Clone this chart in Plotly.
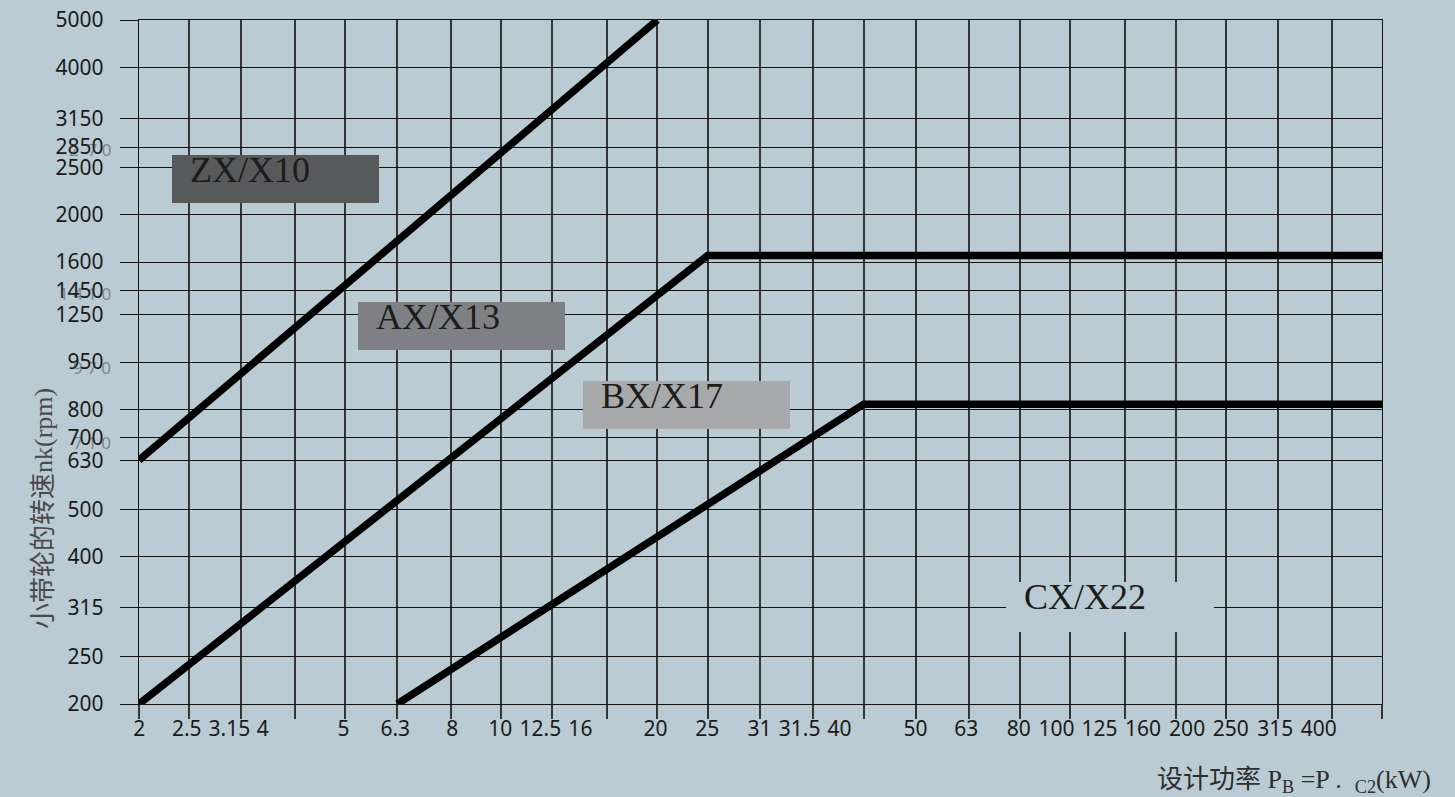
"""V带选型图：小带轮转速 vs 设计功率（ZX/AX/BX/CX 区域划分）。"""

import plotly.graph_objects as go

# 设计功率 (kW) —— R10 网格
power_grid = [2, 2.5, 3.15, 4, 5, 6.3, 8, 10, 12.5, 16, 20, 25, 31.5, 40,
              50, 63, 80, 100, 125, 160, 200, 250, 315, 400, 500]
x_tick_text = ["2", "2.5", "3.15", "4", "5", "6.3", "8", "10", "12.5", "16",
               "20", "25", "31", "31.5", "40", "50", "63", "80", "100", "125",
               "160", "200", "250", "315", "400"]

# 小带轮转速 (rpm)
speed_grid = [200, 250, 315, 400, 500, 630, 700, 800, 1000, 1250, 1400,
              1600, 2000, 2500, 2750, 3150, 4000, 5000]
y_tick_text = ["200", "250", "315", "400", "500", "630", "700", "800", "950",
               "1250", "1450", "1600", "2000", "2500", "2850", "3150",
               "4000", "5000"]

# 分界线
zx_power = [2, 20]
zx_speed = [630, 5000]
ax_power = [2, 25, 500]
ax_speed = [200, 1650, 1650]
bx_power = [6.3, 50, 500]
bx_speed = [200, 820, 820]

# 刻度文字在网格上的位置（网格序号，样式用）
x_label_slot = [0.006, 0.921, 1.744, 2.388, 3.945, 4.943, 6.044, 6.970,
                7.743, 8.515, 9.963, 10.962, 11.971, 12.744, 13.516, 14.98,
                15.96, 16.97, 17.70, 18.53, 19.37, 20.22, 21.06, 21.92, 22.76]
x_label_vals = [2 * 10 ** (s / 10) for s in x_label_slot]

BG = "#bacbd3"
INK = "#1a1a1a"

W, H = 1455, 797
# 绘图区像素位置
L, R, T, B = 139, 1382, 20, 704


def px(x):
    return (x - L) / (R - L)


def py(y):
    return (B - y) / (B - T)


fig = go.Figure()
for xs, ys in [(zx_power, zx_speed), (ax_power, ax_speed), (bx_power, bx_speed)]:
    fig.add_trace(
        go.Scatter(
            x=xs, y=ys, mode="lines",
            line=dict(color="#000000", width=7.5),
            showlegend=False, hoverinfo="skip",
        )
    )

# 型号标签框
boxes = [
    ("ZX/X10", 172, 155, 379, 203, "#58595b"),
    ("AX/X13", 358, 302, 565, 350, "#7f8083"),
    ("BX/X17", 583, 381, 790, 429, "#a8a9ab"),
    ("CX/X22", 1006, 582, 1214, 632, BG),
]
shapes = []
annotations = []
for text, x0, y0, x1, y1, color in boxes:
    shapes.append(dict(
        type="rect", xref="paper", yref="paper",
        x0=px(x0), x1=px(x1), y0=py(y0), y1=py(y1),
        fillcolor=color, line=dict(width=0), layer="above",
    ))
    annotations.append(dict(
        text=text, xref="paper", yref="paper",
        x=px(x0 + 16), y=py(y0 + 15), xanchor="left", yanchor="middle",
        showarrow=False,
        font=dict(family="Liberation Serif, serif", size=36, color="#1c1c1c"),
    ))

# 轴标题
annotations.append(dict(
    text='小带轮的转速<span style="font-family:Liberation Serif">nk(rpm)</span>',
    xref="paper", yref="paper", x=px(40), y=py(509),
    xanchor="center", yanchor="middle", textangle=-90, showarrow=False,
    font=dict(family="Noto Sans CJK SC", size=26, color="#4a4a4a"),
))
annotations.append(dict(
    text='设计功率<span style="font-family:Liberation Serif"> P<sub>B</sub> =P .  <sub>C2</sub>(kW)</span>',
    xref="paper", yref="paper", x=px(1433), y=py(777),
    xanchor="right", yanchor="middle", showarrow=False,
    font=dict(family="Noto Sans CJK SC", size=26, color="#2e2e2e"),
))

# 刻度文字上的残影
for ghost, gy in [("2  7 0", 147), ("1 4 1 0", 291), ("9 7 0", 364), ("7 1 0", 439)]:
    annotations.append(dict(
        text=ghost, xref="paper", yref="paper", x=px(113), y=py(gy + 3),
        xanchor="right", yanchor="middle", showarrow=False, opacity=0.45,
        font=dict(family="DejaVu Sans ExtraLight, Noto Sans", size=17, color="#333333"),
    ))

fig.update_layout(
    width=W, height=H,
    margin=dict(l=L, r=W - R, t=T, b=H - B, autoexpand=False),
    paper_bgcolor=BG, plot_bgcolor=BG,
    font=dict(family="Noto Sans", size=21, color=INK),
    shapes=shapes, annotations=annotations,
    xaxis=dict(
        type="log", range=[0.30102, 2.69898], automargin=False,
        tickmode="array", tickvals=x_label_vals, ticktext=x_tick_text,
        ticks="", showgrid=False, ticklabelstandoff=6,
        ticklabeloverflow="allow",
        tickfont=dict(family="Noto Sans", size=21, color=INK),
        minor=dict(
            tickmode="array", tickvals=power_grid,
            showgrid=True, gridcolor="#353535", gridwidth=1.6,
            ticks="outside", ticklen=14, tickcolor="#353535", tickwidth=1.6,
        ),
        showline=True, linecolor="#111111", linewidth=1.3, mirror=True,
        zeroline=False,
    ),
    yaxis=dict(
        type="log", range=[2.30102, 3.69898], automargin=False,
        tickmode="array", tickvals=speed_grid, ticktext=y_tick_text,
        showgrid=True, gridcolor="#111111", gridwidth=1.3,
        ticks="outside", ticklen=18, tickcolor="#111111", tickwidth=1.3,
        ticklabelstandoff=12, ticklabeloverflow="allow",
        tickfont=dict(family="Noto Sans", size=21, color=INK),
        showline=True, linecolor="#111111", linewidth=1.3, mirror=True,
        zeroline=False,
    ),
)

# 去掉页面默认边距，背景与图一致
page_css = (
    "document.body.style.margin='0';"
    "document.body.style.overflow='hidden';"
    f"document.body.style.background='{BG}';"
)
fig.write_html("out.html", post_script=page_css, config={"displayModeBar": False})
